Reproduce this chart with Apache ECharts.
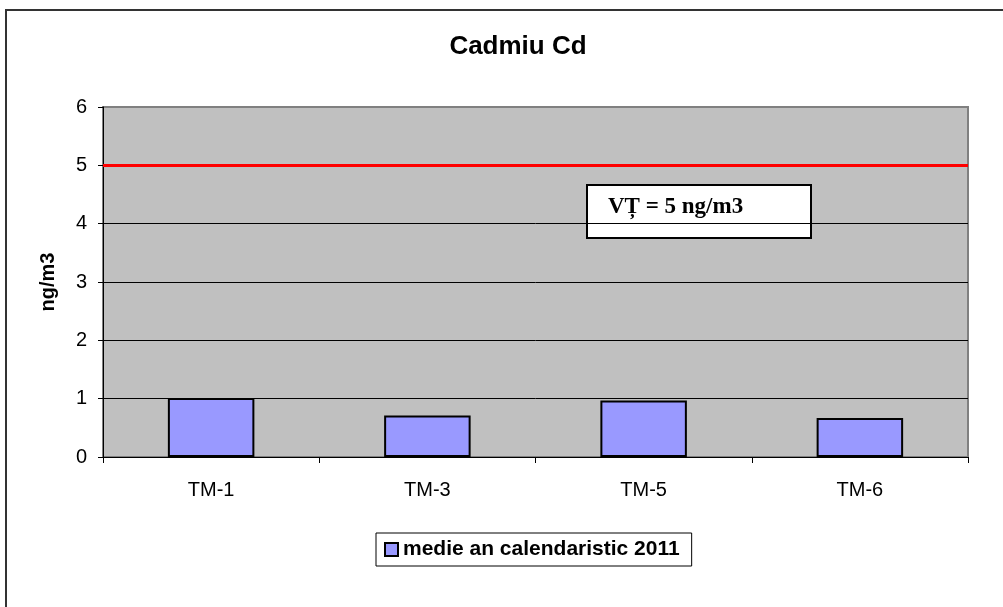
<!DOCTYPE html>
<html>
<head>
<meta charset="utf-8">
<script src="https://cdn.jsdelivr.net/npm/echarts@6/dist/echarts.min.js"></script>
<style>
  html, body { margin: 0; padding: 0; background: #fff; }
  #chart { width: 1003px; height: 607px; }
</style>
</head>
<body>
<div id="chart"></div>
<script>
  // date
  var categories = ['TM-1', 'TM-3', 'TM-5', 'TM-6'];
  var medie2011 = [1.01, 0.71, 0.97, 0.67];
  var valoareTinta = 5;
  var yTicks = { min: 0, max: 6, interval: 1 };

  var option = {
    backgroundColor: '#fff',
    animation: false,
    title: {
      text: 'Cadmiu Cd',
      left: 513,
      top: 29,
      textAlign: 'center',
      textStyle: { fontFamily: 'Liberation Sans', fontSize: 26, fontWeight: 'bold', color: '#000' }
    },
    legend: {
      data: ['medie an calendaristic 2011'],
      left: 376,
      top: 533,
      padding: [6, 12, 6, 8],
      itemWidth: 13,
      itemHeight: 13,
      itemGap: 6,
      icon: 'rect',
      borderColor: '#000',
      borderWidth: 1,
      backgroundColor: '#fff',
      textStyle: { fontFamily: 'Liberation Sans', fontSize: 21, fontWeight: 'bold', color: '#000' }
    },
    grid: {
      left: 103, right: 35, top: 107, bottom: 150,
      show: true,
      backgroundColor: '#C0C0C0',
      borderColor: '#808080',
      borderWidth: 2
    },
    xAxis: {
      type: 'category',
      data: categories,
      axisLine: { lineStyle: { color: '#000', width: 1 } },
      axisTick: { show: true, length: 6, lineStyle: { color: '#000' } },
      axisLabel: { margin: 23, fontFamily: 'Liberation Sans', fontSize: 20, color: '#000' }
    },
    yAxis: {
      type: 'value',
      min: yTicks.min,
      max: yTicks.max,
      interval: yTicks.interval,
      name: 'ng/m3',
      nameLocation: 'middle',
      nameGap: 45,
      nameRotate: 90,
      nameTextStyle: { fontFamily: 'Liberation Sans', fontSize: 20, fontWeight: 'bold', color: '#000' },
      axisLine: { show: true, lineStyle: { color: '#000', width: 1 } },
      axisTick: { show: true, length: 5, lineStyle: { color: '#000' } },
      axisLabel: { margin: 16, fontFamily: 'Liberation Sans', fontSize: 20, color: '#000' },
      splitLine: {
        show: true,
        lineStyle: { color: ['#000', '#000', '#000', '#000', '#000', '#000', '#808080'], width: 1 }
      }
    },
    series: [{
      name: 'medie an calendaristic 2011',
      type: 'bar',
      data: medie2011,
      barWidth: '40%',
      itemStyle: { color: '#9999FF', borderColor: '#000', borderWidth: 2 },
      markLine: {
        symbol: 'none',
        silent: true,
        label: { show: false },
        lineStyle: { color: '#FF0000', width: 3, type: 'solid' },
        data: [{ yAxis: valoareTinta }]
      }
    }],
    graphic: [
      {
        type: 'rect',
        shape: { x: 6, y: 10, width: 1010, height: 620 },
        style: { fill: 'none', stroke: '#333', lineWidth: 2 },
        silent: true
      },
      {
        type: 'group',
        left: 586,
        top: 184,
        children: [
          {
            type: 'rect',
            shape: { x: 0, y: 0, width: 224, height: 53 },
            style: { fill: '#fff', stroke: '#000', lineWidth: 2 }
          },
          {
            type: 'text',
            x: 21,
            y: 22,
            style: {
              text: 'VȚ = 5 ng/m3',
              font: 'bold 23px "Liberation Serif"',
              fill: '#000',
              verticalAlign: 'middle'
            }
          }
        ]
      }
    ]
  };

  echarts.init(document.getElementById('chart')).setOption(option);
</script>
</body>
</html>
